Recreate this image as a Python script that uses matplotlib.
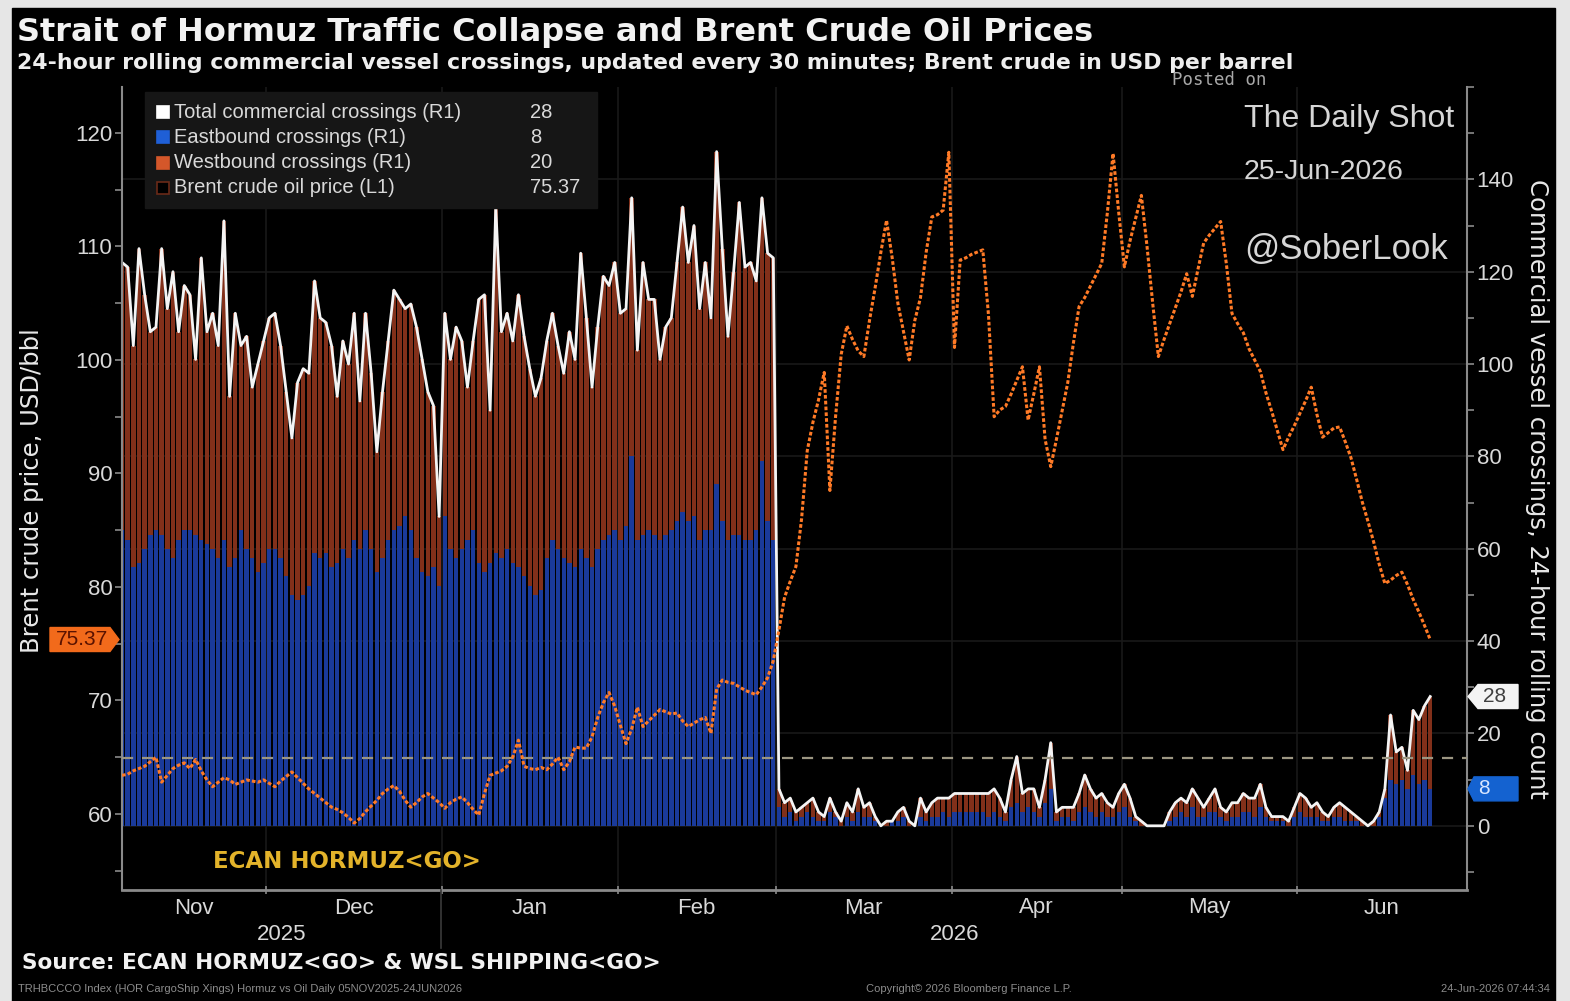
import numpy as np
import pandas as pd
import matplotlib
matplotlib.use("Agg")
import matplotlib.pyplot as plt
import matplotlib.dates as mdates
import matplotlib.transforms as mtransforms
from matplotlib.patches import Rectangle, Polygon

W, H = 1570, 1001
DPI = 100

# ---------------------------------------------------------------- data
dates = pd.date_range("2025-11-05", "2026-06-24", freq="D")

# 24-hour rolling total commercial crossings (right axis)
total_crossings = [
    122, 121, 104, 125, 115, 107, 108, 125, 112, 120,
    107, 117, 115, 101, 123, 107, 111, 104, 131, 93,
    111, 104, 106, 95, 100, 105, 110, 111, 104, 94,
    84, 96, 99, 98, 118, 110, 109, 104, 93, 105,
    100, 111, 92, 111, 98, 81, 94, 105, 116, 114,
    112, 113, 108, 101, 94, 91, 67, 111, 101, 108,
    105, 95, 105, 114, 115, 90, 134, 107, 111, 105,
    115, 106, 99, 93, 97, 105, 111, 104, 98, 107,
    101, 124, 110, 95, 108, 119, 117, 122, 111, 112,
    136, 103, 122, 114, 114, 101, 108, 110, 122, 134,
    122, 130, 112, 122, 110, 146, 125, 106, 120, 135,
    121, 122, 118, 136, 124, 123,
    8, 5, 6, 3, 4, 5, 6, 3, 2, 6,
    3, 1, 5, 3, 8, 4, 5, 2, 0, 1,
    1, 3, 4, 1, 0, 6, 3, 5, 6, 6,
    6, 7, 7, 7, 7, 7, 7, 7, 8, 6,
    3, 10, 15, 7, 8, 8, 4, 10, 18, 3,
    4, 4, 4, 7, 11, 8, 6, 7, 5, 4,
    7, 9, 6, 2, 1, 0, 0, 0, 0, 3,
    5, 6, 5, 8, 6, 4, 6, 8, 4, 3,
    5, 5, 7, 6, 6, 9, 4, 2, 2, 2,
    1, 4, 7, 6, 4, 5, 3, 2, 4, 5,
    4, 3, 2, 1, 0, 1, 3, 8, 24, 16,
    17, 12, 25, 23, 26, 28,
]

# eastbound part of the rolling count
eastbound = [
    64, 62, 56, 57, 60, 63, 64, 63, 60, 58,
    62, 64, 64, 63, 62, 61, 60, 58, 62, 56,
    58, 64, 60, 58, 55, 57, 60, 60, 58, 54,
    50, 49, 50, 52, 59, 58, 59, 56, 57, 60,
    58, 62, 60, 64, 60, 55, 58, 62, 64, 65,
    67, 64, 58, 55, 54, 56, 52, 67, 60, 58,
    60, 62, 64, 57, 55, 57, 59, 58, 60, 57,
    56, 54, 52, 50, 51, 58, 62, 60, 58, 57,
    56, 60, 58, 56, 60, 62, 63, 64, 62, 65,
    80, 62, 63, 64, 63, 62, 63, 64, 66, 68,
    66, 67, 62, 64, 64, 74, 66, 62, 63, 63,
    62, 62, 64, 79, 66, 62,
    4, 2, 3, 1, 2, 3, 2, 1, 1, 3,
    2, 0, 2, 1, 3, 2, 2, 1, 0, 0,
    1, 1, 2, 0, 0, 2, 1, 2, 2, 3,
    2, 3, 3, 3, 3, 3, 3, 2, 3, 2,
    1, 4, 5, 3, 4, 3, 2, 5, 8, 1,
    2, 2, 1, 3, 4, 3, 2, 3, 2, 2,
    3, 4, 2, 1, 0, 0, 0, 0, 0, 1,
    2, 3, 2, 4, 2, 2, 3, 3, 2, 1,
    2, 2, 3, 3, 2, 4, 2, 1, 1, 1,
    0, 2, 3, 2, 2, 2, 1, 1, 2, 2,
    1, 1, 1, 0, 0, 0, 2, 6, 10, 9,
    10, 8, 11, 9, 10, 8,
]

# Brent crude, USD per barrel (left axis)
brent = [
    63.4, 63.5, 63.8, 64.0, 64.2, 64.6, 65.0, 62.8, 63.4, 64.0,
    64.3, 64.5, 64.0, 64.8, 63.8, 63.0, 62.4, 62.8, 63.2, 63.0,
    62.6, 62.8, 63.0, 62.9, 62.8, 63.0, 62.7, 62.4, 62.9, 63.3,
    63.7, 63.2, 62.7, 62.2, 61.8, 61.4, 61.0, 60.6, 60.4, 60.1,
    59.7, 59.2, 59.6, 60.2, 60.7, 61.2, 61.8, 62.2, 62.5, 62.0,
    61.2, 60.6, 61.0, 61.5, 61.8, 61.4, 61.0, 60.5, 61.0, 61.3,
    61.5, 61.0, 60.4, 59.9, 61.8, 63.4, 63.6, 63.8, 64.2, 65.0,
    66.5, 64.2, 64.0, 63.9, 64.1, 63.9, 64.4, 65.0, 63.9, 64.6,
    65.9, 65.8, 65.8, 66.8, 68.5, 69.8, 70.7, 69.5, 67.8, 66.2,
    67.5, 69.4, 67.7, 68.2, 68.7, 69.2, 69.0, 68.8, 68.9, 68.2,
    67.7, 68.0, 68.3, 68.5, 67.1, 71.0, 71.8, 71.6, 71.5, 71.2,
    70.9, 70.7, 70.5, 71.2, 72.0, 73.5,
    76.2, 79.1, 80.5, 81.8, 86.0, 92.0, 94.5, 96.5, 98.9, 88.5,
    95.0, 100.5, 103.0, 101.8, 100.8, 100.3, 103.5, 106.4, 109.5, 112.3,
    109.0, 105.0, 102.5, 100.0, 103.5, 105.5, 109.5, 112.6, 112.8, 113.2,
    118.3, 101.1, 108.8, 109.0, 109.3, 109.5, 109.7, 104.0, 95.0, 95.6,
    95.9, 97.0, 98.2, 99.4, 94.7, 97.0, 99.4, 93.0, 90.6, 93.0,
    95.5, 98.0, 101.5, 104.7, 105.5, 106.5, 107.5, 108.5, 113.0, 118.2,
    113.0, 108.2, 110.5, 112.5, 114.5, 110.0, 105.0, 100.3, 101.8, 103.2,
    104.6, 106.0, 107.6, 105.6, 108.0, 110.3, 111.0, 111.6, 112.2, 108.5,
    104.1, 103.2, 102.4, 101.0, 100.0, 99.0, 97.1, 95.5, 93.8, 92.1,
    93.2, 94.2, 95.3, 96.4, 97.6, 95.2, 93.2, 93.6, 94.0, 94.1,
    92.8, 91.4, 89.5, 87.5, 85.8, 84.0, 82.0, 80.3, 80.6, 81.0,
    81.3, 80.2, 78.9, 77.8, 76.6, 75.37,
]

reference_level = 64.9  # dashed guide line, USD/bbl

month_names = ["Nov", "Dec", "Jan", "Feb", "Mar", "Apr", "May", "Jun"]
year_names = ["2025", "2026"]
crossing_ticks = [0, 20, 40, 60, 80, 100, 120, 140]
price_ticks = [60, 70, 80, 90, 100, 110, 120]

total_crossings = np.array(total_crossings, dtype=float)
eastbound = np.array(eastbound, dtype=float)
westbound = total_crossings - eastbound
brent = np.array(brent, dtype=float)

# ---------------------------------------------------------------- styling
BG = "#000000"
TXT = "#d9d9d9"
AXC = "#8a8a8a"
EAST = "#1a3a9a"
WEST = "#82301a"
BRENT = "#ff7a26"
SANS = "Liberation Sans"


def fx(x):
    return x / W


def fy(y):
    return 1 - y / H


fig = plt.figure(figsize=(W / DPI, H / DPI), dpi=DPI, facecolor="#e6e6e6")
fig.add_artist(Rectangle((fx(12), 0), fx(1555) - fx(12), fy(8),
                         transform=fig.transFigure, color=BG, zorder=-10))

left, right, top, bottom = 122, 1467, 87, 890
ax = fig.add_axes([fx(left), fy(bottom), fx(right) - fx(left), fy(top) - fy(bottom)])
ax.set_facecolor(BG)

x = mdates.date2num(dates) + 0.5
x_lo = mdates.date2num(pd.Timestamp("2025-11-05 12:00"))
x_hi = mdates.date2num(pd.Timestamp("2026-07-01"))

# crossings on the main axes, scale shown on the right
ax.bar(x, eastbound, width=0.78, color=EAST, zorder=2, linewidth=0)
ax.bar(x, westbound, bottom=eastbound, width=0.78, color=WEST, zorder=2, linewidth=0)
ax.plot(x, total_crossings, color="#f4f4f4", lw=2.0, zorder=4)
ax.set_ylim(-13.9, 160)
ax.set_xlim(x_lo, x_hi)

# Brent on a twin axes, scale shown on the left
axb = ax.twinx()
axb.set_ylim(53.3, 124.05)
axb.set_xlim(x_lo, x_hi)
axb.plot(x, brent, color=BRENT, lw=2.2, ls=(0, (1.2, 0.7)), zorder=5)
axb.axhline(reference_level, color="#9c9682", lw=1.6, ls=(0, (5, 4)), zorder=3)

# faint grid
month_starts = pd.date_range("2025-12-01", "2026-06-01", freq="MS")
for ms in month_starts:
    ax.axvline(mdates.date2num(ms), color="#191919", lw=1.2, zorder=0)
for t in crossing_ticks:
    ax.axhline(t, color="#191919", lw=1.2, zorder=0)

# spines
for a in (ax, axb):
    for s in a.spines.values():
        s.set_visible(False)
ax.spines["bottom"].set_visible(True)
ax.spines["bottom"].set_color(AXC)
ax.spines["bottom"].set_linewidth(2)
ax.spines["right"].set_visible(True)
ax.spines["right"].set_color(AXC)
ax.spines["right"].set_linewidth(1.5)
axb.spines["left"].set_visible(True)
axb.spines["left"].set_color(AXC)
axb.spines["left"].set_linewidth(1.5)

# right axis (crossings)
ax.yaxis.tick_right()
ax.set_yticks(crossing_ticks)
ax.set_yticks([-10, 10, 30, 50, 70, 90, 110, 130, 150, 160], minor=True)
ax.tick_params(axis="y", which="both", colors=AXC, length=5, width=1.2,
               labelcolor=TXT, labelsize=16, pad=2)
for lab in ax.get_yticklabels():
    lab.set_family(SANS)

# left axis (Brent)
axb.yaxis.tick_left()
axb.set_yticks(price_ticks)
axb.set_yticks([55, 65, 75, 85, 95, 105, 115], minor=True)
axb.tick_params(axis="y", which="both", colors=AXC, length=5, width=1.2,
                labelcolor=TXT, labelsize=16, pad=2)
for lab in axb.get_yticklabels():
    lab.set_family(SANS)

# x axis: ticks at month boundaries, labels centred in each month
ax.set_xticks(mdates.date2num(month_starts))
ax.set_xticklabels([])
ax.tick_params(axis="x", colors=AXC, length=6, width=1.2, direction="inout")
axb.tick_params(axis="x", length=0, labelbottom=False)

bounds = [x_lo] + list(mdates.date2num(month_starts)) + [x_hi]
xtrans = mtransforms.blended_transform_factory(ax.transData, fig.transFigure)
for name, a, b in zip(month_names, bounds[:-1], bounds[1:]):
    ax.text((a + b) / 2, fy(908), name, transform=xtrans, ha="center", va="center",
            color=TXT, fontsize=16, family=SANS)
jan1 = mdates.date2num(pd.Timestamp("2026-01-01"))
ax.text((x_lo + jan1) / 2, fy(934), year_names[0], transform=xtrans, ha="center",
        va="center", color=TXT, fontsize=16, family=SANS)
ax.text((jan1 + x_hi) / 2, fy(934), year_names[1], transform=xtrans, ha="center",
        va="center", color=TXT, fontsize=16, family=SANS)
fig.add_artist(plt.Line2D([fx(441), fx(441)], [fy(890), fy(948)],
                          transform=fig.transFigure, color="#3a3a3a", lw=1.2))

# axis titles
fig.text(fx(32), fy(491), "Brent crude price, USD/bbl", rotation=90, ha="center",
         va="center", color="#e8e8e8", fontsize=17.5)
fig.text(fx(1537), fy(489), "Commercial vessel crossings, 24-hour rolling count",
         rotation=270, ha="center", va="center", color="#e8e8e8", fontsize=17.5)

# titles
fig.text(fx(17), fy(33), "Strait of Hormuz Traffic Collapse and Brent Crude Oil Prices",
         ha="left", va="center", color="#f2f2f2", fontsize=23, fontweight="bold")
fig.text(fx(17), fy(63),
         "24-hour rolling commercial vessel crossings, updated every 30 minutes; "
         "Brent crude in USD per barrel",
         ha="left", va="center", color="#eeeeee", fontsize=15.8, fontweight="bold")
fig.text(fx(1172), fy(80), "Posted on", ha="left", va="center", color="#a8a8a8",
         fontsize=12.5, family="DejaVu Sans Mono")
fig.text(fx(1244), fy(119), "The Daily Shot", ha="left", va="center", color="#d6d6d6",
         fontsize=23, family=SANS)
fig.text(fx(1244), fy(172), "25-Jun-2026", ha="left", va="center", color="#d6d6d6",
         fontsize=20.5, family=SANS)
fig.text(fx(1244), fy(249), "@SoberLook", ha="left", va="center", color="#d6d6d6",
         fontsize=25, family=SANS)

# legend panel
fig.add_artist(Rectangle((fx(145), fy(208)), fx(597) - fx(145), fy(92) - fy(208),
                         transform=fig.transFigure, color="#161616", zorder=6))
legend_rows = [
    ("Total commercial crossings (R1)", f"{total_crossings[-1]:.0f}", "#ffffff", "#ffffff"),
    ("Eastbound crossings (R1)", f"{eastbound[-1]:.0f}", "#1f5fd6", "#1f5fd6"),
    ("Westbound crossings (R1)", f"{westbound[-1]:.0f}", "#d4572a", "#d4572a"),
    ("Brent crude oil price (L1)", f"{brent[-1]:.2f}", BG, "#6a2a18"),
]
for k, (label, val, fc, ec) in enumerate(legend_rows):
    yc = 112 + k * 25.3
    fig.add_artist(Rectangle((fx(157), fy(yc + 6)), fx(12), fy(0) - fy(12),
                             transform=fig.transFigure, facecolor=fc, edgecolor=ec,
                             lw=1.2, zorder=7))
    fig.text(fx(174), fy(yc), label, ha="left", va="center", color=TXT, fontsize=14.5,
             family=SANS, zorder=8)
    fig.text(fx(530), fy(yc), val, ha="left", va="center", color=TXT, fontsize=14.5,
             family=SANS, zorder=8)

# last-value tags on both axes
btrans = mtransforms.blended_transform_factory(fig.transFigure, axb.transData)
h = 12 / 11.35
last_price = brent[-1]
axb.add_patch(Polygon([(fx(50), last_price - h), (fx(110), last_price - h),
                       (fx(119), last_price), (fx(110), last_price + h),
                       (fx(50), last_price + h)], closed=True, transform=btrans,
                      color="#f26a1b", clip_on=False, zorder=9))
axb.text(fx(82), last_price, f"{last_price:.2f}", transform=btrans, ha="center",
         va="center", color="#5a1200", fontsize=15, family=SANS, clip_on=False,
         zorder=10)

ctrans = mtransforms.blended_transform_factory(fig.transFigure, ax.transData)
hc = 12 / 4.615
lt = total_crossings[-1]
ax.add_patch(Polygon([(fx(1468), lt), (fx(1478), lt - hc), (fx(1518), lt - hc),
                      (fx(1518), lt + hc), (fx(1478), lt + hc)], closed=True,
                     transform=ctrans, facecolor="#f4f4f4", edgecolor="#f4f4f4",
                     clip_on=False, zorder=9))
ax.text(fx(1495), lt, f"{lt:.0f}", transform=ctrans, ha="center", va="center",
        color="#404040", fontsize=15, family=SANS, clip_on=False, zorder=10)
le = eastbound[-1]
ax.add_patch(Polygon([(fx(1468), le), (fx(1474), le - hc), (fx(1518), le - hc),
                      (fx(1518), le + hc), (fx(1474), le + hc)], closed=True,
                     transform=ctrans, facecolor="#1462d0", edgecolor="#1462d0",
                     clip_on=False, zorder=9))
ax.text(fx(1484), le, f"{le:.0f}", transform=ctrans, ha="center", va="center",
        color="#d8e6ff", fontsize=15, family=SANS, clip_on=False, zorder=10)

# in-chart ticker and footer
fig.text(fx(213), fy(862), "ECAN HORMUZ<GO>", ha="left", va="center", color="#e3b32a",
         fontsize=16.5, fontweight="bold")
fig.text(fx(22), fy(963), "Source: ECAN HORMUZ<GO> & WSL SHIPPING<GO>", ha="left",
         va="center", color="#f2f2f2", fontsize=15.6, fontweight="bold")
fig.text(fx(18), fy(989),
         "TRHBCCCO Index (HOR CargoShip Xings) Hormuz vs Oil Daily 05NOV2025-24JUN2026",
         ha="left", va="center", color="#8c8c8c", fontsize=8, family=SANS)
fig.text(fx(866), fy(989), "Copyright\u00a9 2026 Bloomberg Finance L.P.", ha="left",
         va="center", color="#8c8c8c", fontsize=8, family=SANS)
fig.text(fx(1550), fy(989), "24-Jun-2026 07:44:34", ha="right", va="center",
         color="#8c8c8c", fontsize=8, family=SANS)

fig.savefig("out.png", dpi=DPI, facecolor=fig.get_facecolor())
